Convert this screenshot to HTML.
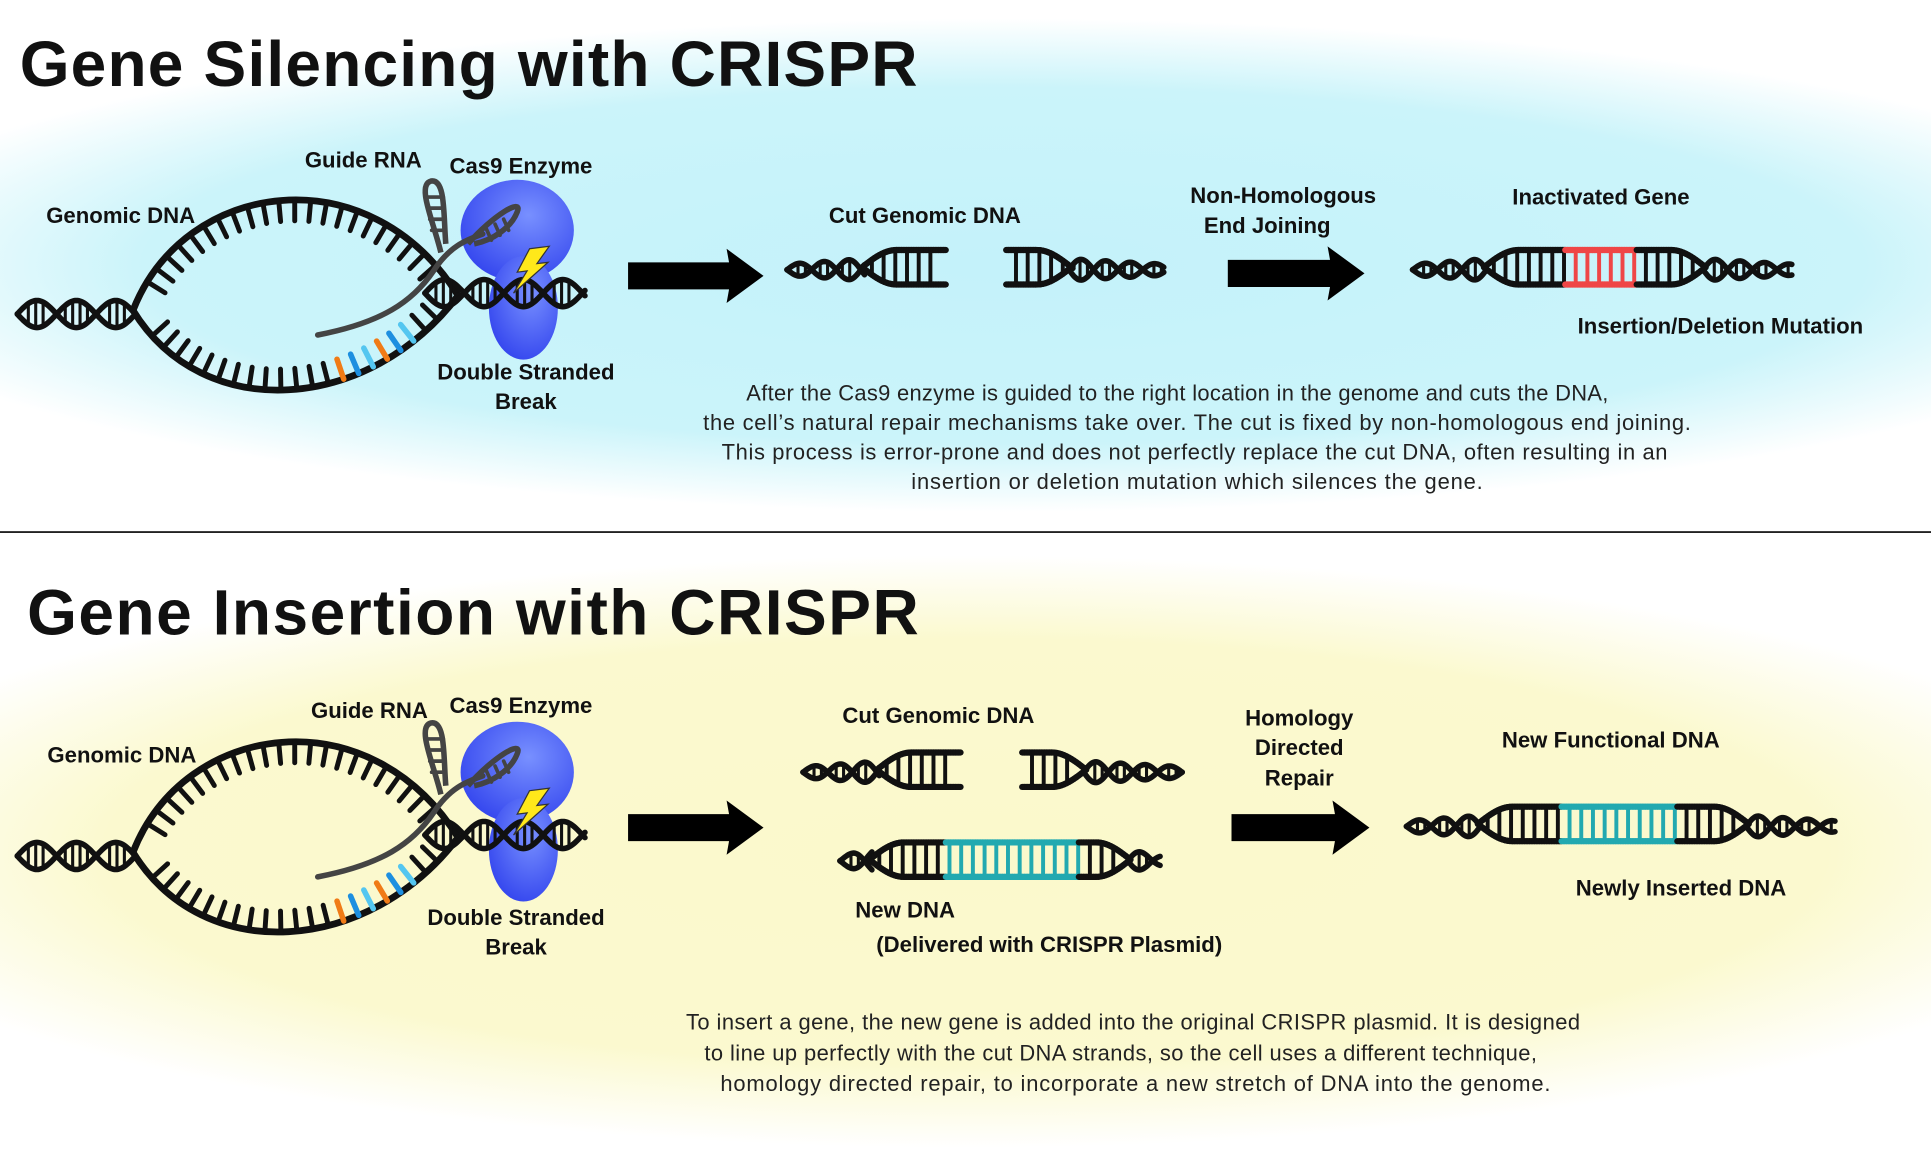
<!DOCTYPE html>
<html><head><meta charset="utf-8"><style>
html,body{margin:0;padding:0;background:#fff}
svg{display:block}
text{font-family:"Liberation Sans",sans-serif;font-weight:bold;fill:#111}
.p{font-weight:normal;font-size:17.8px;fill:#222}
</style></head><body>
<svg id="s" width="1931" height="1170" viewBox="0 0 1568 950" preserveAspectRatio="none" xmlns="http://www.w3.org/2000/svg">
<defs>
<radialGradient id="gc" cx="0.52" cy="0.5" r="0.62" gradientTransform="translate(0.52 0.5) scale(1 0.75) translate(-0.52 -0.5)">
<stop offset="0" stop-color="#c4f2fa"/><stop offset="0.72" stop-color="#cbf4fa"/><stop offset="1" stop-color="#ffffff"/></radialGradient>
<radialGradient id="gy" cx="0.5" cy="0.5" r="0.62" gradientTransform="translate(0.5 0.5) scale(1 0.75) translate(-0.5 -0.5)">
<stop offset="0" stop-color="#fbf9cc"/><stop offset="0.72" stop-color="#fbf9cf"/><stop offset="1" stop-color="#ffffff"/></radialGradient>
<radialGradient id="bl" cx="0.6" cy="0.35" r="0.7"><stop offset="0" stop-color="#7890ff"/><stop offset="1" stop-color="#3446ee"/></radialGradient>
</defs>
<rect x="0" y="0" width="1568" height="431" fill="url(#gc)"/>
<rect x="0" y="433" width="1568" height="517" fill="url(#gy)"/>
<line x1="0" y1="432" x2="1568" y2="432" stroke="#222" stroke-width="1.5"/>
<text x="16" y="70" font-size="52" textLength="729">Gene Silencing with CRISPR</text>
<text x="22" y="515" font-size="52" textLength="724">Gene Insertion with CRISPR</text>
<g id="art"></g>
<g font-size="18" text-anchor="middle">
<text x="295" y="136">Guide RNA</text><text x="423" y="141">Cas9 Enzyme</text>
<text x="98" y="181">Genomic DNA</text><text x="427" y="308">Double Stranded</text><text x="427" y="332">Break</text>
<text x="751" y="181">Cut Genomic DNA</text><text x="1042" y="165">Non-Homologous</text><text x="1029" y="189">End Joining</text>
<text x="1300" y="166">Inactivated Gene</text><text x="1397" y="271">Insertion/Deletion Mutation</text>
<text x="300" y="583">Guide RNA</text><text x="423" y="579">Cas9 Enzyme</text>
<text x="99" y="619">Genomic DNA</text><text x="419" y="751">Double Stranded</text><text x="419" y="775">Break</text>
<text x="762" y="587">Cut Genomic DNA</text><text x="1055" y="589">Homology</text><text x="1055" y="613">Directed</text><text x="1055" y="638">Repair</text>
<text x="1308" y="607">New Functional DNA</text><text x="735" y="745">New DNA</text><text x="852" y="773">(Delivered with CRISPR Plasmid)</text>
<text x="1365" y="727">Newly Inserted DNA</text>
</g>
<g text-anchor="middle">
<text class="p" x="956" y="325" textLength="700">After the Cas9 enzyme is guided to the right location in the genome and cuts the DNA,</text>
<text class="p" x="972" y="349" textLength="802">the cell’s natural repair mechanisms take over.  The cut is fixed by non-homologous end joining.</text>
<text class="p" x="970" y="373" textLength="768">This process is error-prone and does not perfectly replace the cut DNA, often resulting in an</text>
<text class="p" x="972" y="397" textLength="464">insertion or deletion mutation which silences the gene.</text>
<text class="p" x="920" y="836" textLength="726">To insert a gene, the new gene is added into the original CRISPR plasmid. It is designed</text>
<text class="p" x="910" y="861" textLength="676">to line up perfectly with the cut DNA strands, so the cell uses a different technique,</text>
<text class="p" x="922" y="886" textLength="674">homology directed repair, to incorporate a new stretch of DNA into the genome.</text>
</g>
</svg>
<script>
var NS="http://www.w3.org/2000/svg",G=document.getElementById('art');
function el(t,a,p){var e=document.createElementNS(NS,t);for(var k in a)e.setAttribute(k,a[k]);(p||G).appendChild(e);return e;}
function ln(x1,y1,x2,y2,c,w){el('line',{x1:x1,y1:y1,x2:x2,y2:y2,stroke:c||'#111','stroke-width':w||4,'stroke-linecap':'round'});}
function twist(x0,x1,y,A,P,grow){var a='',b='';function amp(x){if(grow==1)return A*(0.5+0.5*(x-x0)/(x1-x0));if(grow==-1)return A*(1-0.5*(x-x0)/(x1-x0));return A;}
for(var x=x0;x<=x1+0.1;x+=1){var s=amp(x)*Math.sin(2*Math.PI*(x-x0)/P);a+=(x==x0?'M':'L')+x+','+(y+s);b+=(x==x0?'M':'L')+x+','+(y-s);}
el('path',{d:a,fill:'none',stroke:'#111','stroke-width':4.5,'stroke-linecap':'round'});el('path',{d:b,fill:'none',stroke:'#111','stroke-width':4.5,'stroke-linecap':'round'});
for(var x=x0+3;x<x1;x+=6){var s=amp(x)*Math.sin(2*Math.PI*(x-x0)/P);if(Math.abs(s)>amp(x)*0.5)ln(x,y-Math.abs(s),x,y+Math.abs(s),'#111',2.5);}}
function ladder(xa,xb,y,h,tl,tr,sec){var t=28;function H(x){var v=h;if(tl&&x<xa+t)v=h*Math.sin((x-xa)/t*Math.PI/2);if(tr&&x>xb-t)v=h*Math.sin((xb-x)/t*Math.PI/2);return v;}
function col(x){for(var i=0;sec&&i<sec.length;i++)if(x>=sec[i][0]&&x<=sec[i][1])return sec[i][2];return '#111';}
for(var x=xa+8;x<xb-4;x+=9.5){var v=H(x);if(v>5)ln(x,y-v+2,x,y+v-2,col(x),3.2);}
for(var x=xa;x<xb;x+=2){var c=col(x+1);ln(x,y-H(x),x+2,y-H(x+2),c,5);ln(x,y+H(x),x+2,y+H(x+2),c,5);}}
function arrow(x0,x1,y,hw){el('polygon',{points:(x0)+','+(y-11)+' '+(x1-28)+','+(y-11)+' '+(x1-30)+','+(y-hw)+' '+x1+','+y+' '+(x1-30)+','+(y+hw)+' '+(x1-28)+','+(y+11)+' '+x0+','+(y+11),fill:'#000'});}
function curveTicks(d,len,dir,colf){var p=el('path',{d:d,fill:'none',stroke:'#111','stroke-width':5.5,'stroke-linecap':'round'});var L=p.getTotalLength();
for(var s=26;s<L-24;s+=13){var a=p.getPointAtLength(s),b=p.getPointAtLength(s+1);var dx=b.x-a.x,dy=b.y-a.y,n=Math.hypot(dx,dy);var nx=-dy/n*dir,ny=dx/n*dir;
var c=colf?colf(a.x):'#111';ln(a.x,a.y,a.x+nx*len,a.y+ny*len,c,c=='#111'?4:4.5);}}
function crispr(dy){
twist(14,110,255+dy,11,64);
var cf=function(x){if(x>274&&x<344){var i=Math.round((x-274)/13)%3;return ['#f07b16','#1d8fe0','#54c6f0'][i];}return '#111';};
curveTicks('M108,'+(252+dy)+' C150,'+(145+dy)+' 300,'+(125+dy)+' 372,'+(240+dy),17,1);
curveTicks('M108,'+(252+dy)+' C165,'+(345+dy)+' 300,'+(335+dy)+' 372,'+(240+dy),17,-1,cf);
el('ellipse',{cx:420,cy:187+dy,rx:46,ry:41,fill:'url(#bl)'});
el('ellipse',{cx:425,cy:250+dy,rx:28,ry:42,fill:'url(#bl)'});
el('path',{d:'M258,'+(272+dy)+' C310,'+(262+dy)+' 335,'+(245+dy)+' 352,'+(220+dy)+' C365,'+(200+dy)+' 378,'+(195+dy)+' 392,'+(190+dy),fill:'none',stroke:'#444','stroke-width':4.5,'stroke-linecap':'round'});
el('path',{d:'M380,'+(198+dy)+' C400,'+(175+dy)+' 425,'+(160+dy)+' 420,'+(172+dy)+' C415,'+(185+dy)+' 400,'+(195+dy)+' 385,'+(198+dy),fill:'none',stroke:'#444','stroke-width':4.5});
for(var i=0;i<3;i++)ln(395+i*7,186+dy-i*4,399+i*7,195+dy-i*4,'#444',3);
el('path',{d:'M358,'+(205+dy)+' C352,'+(180+dy)+' 338,'+(150+dy)+' 350,'+(147+dy)+' C362,'+(145+dy)+' 360,'+(175+dy)+' 362,'+(198+dy),fill:'none',stroke:'#444','stroke-width':4.5});
for(var i=0;i<4;i++)ln(346+i*1.5,160+dy+i*9,360,160+dy+i*9,'#444',3);
twist(345,475,238+dy,11,64);
el('polygon',{points:'430,'+(202+dy)+' 446,'+(200+dy)+' 436,'+(214+dy)+' 445,'+(213+dy)+' 417,'+(238+dy)+' 428,'+(220+dy)+' 420,'+(221+dy),fill:'#ffe81a',stroke:'#333','stroke-width':1});
}
crispr(0);crispr(440);
arrow(510,620,224,22);arrow(997,1108,222,22);
arrow(510,620,672,22);arrow(1000,1112,672,22);
twist(639,702,219,9,40,1);ladder(700,767,217,14,true,false);
ladder(817,870,217,14,false,true);twist(868,945,219,9,40,-1);
twist(1147,1207,219,9,40,1);ladder(1205,1385,217,14,true,true,[[1272,1328,'#ef4646']]);twist(1383,1455,219,9,40,-1);
twist(652,714,627,9,40,1);ladder(712,780,625,14,true,false);
ladder(830,882,625,14,false,true);twist(880,960,627,9,40,-1);
twist(682,708,699,9,40,1);ladder(706,918,698,14,true,true,[[768,876,'#22a9b0']]);twist(916,942,699,9,40,-1);
twist(1142,1202,671,9,40,1);ladder(1200,1420,669,14,true,true,[[1268,1362,'#22a9b0']]);twist(1418,1490,671,9,40,-1);
</script>
</body></html>
